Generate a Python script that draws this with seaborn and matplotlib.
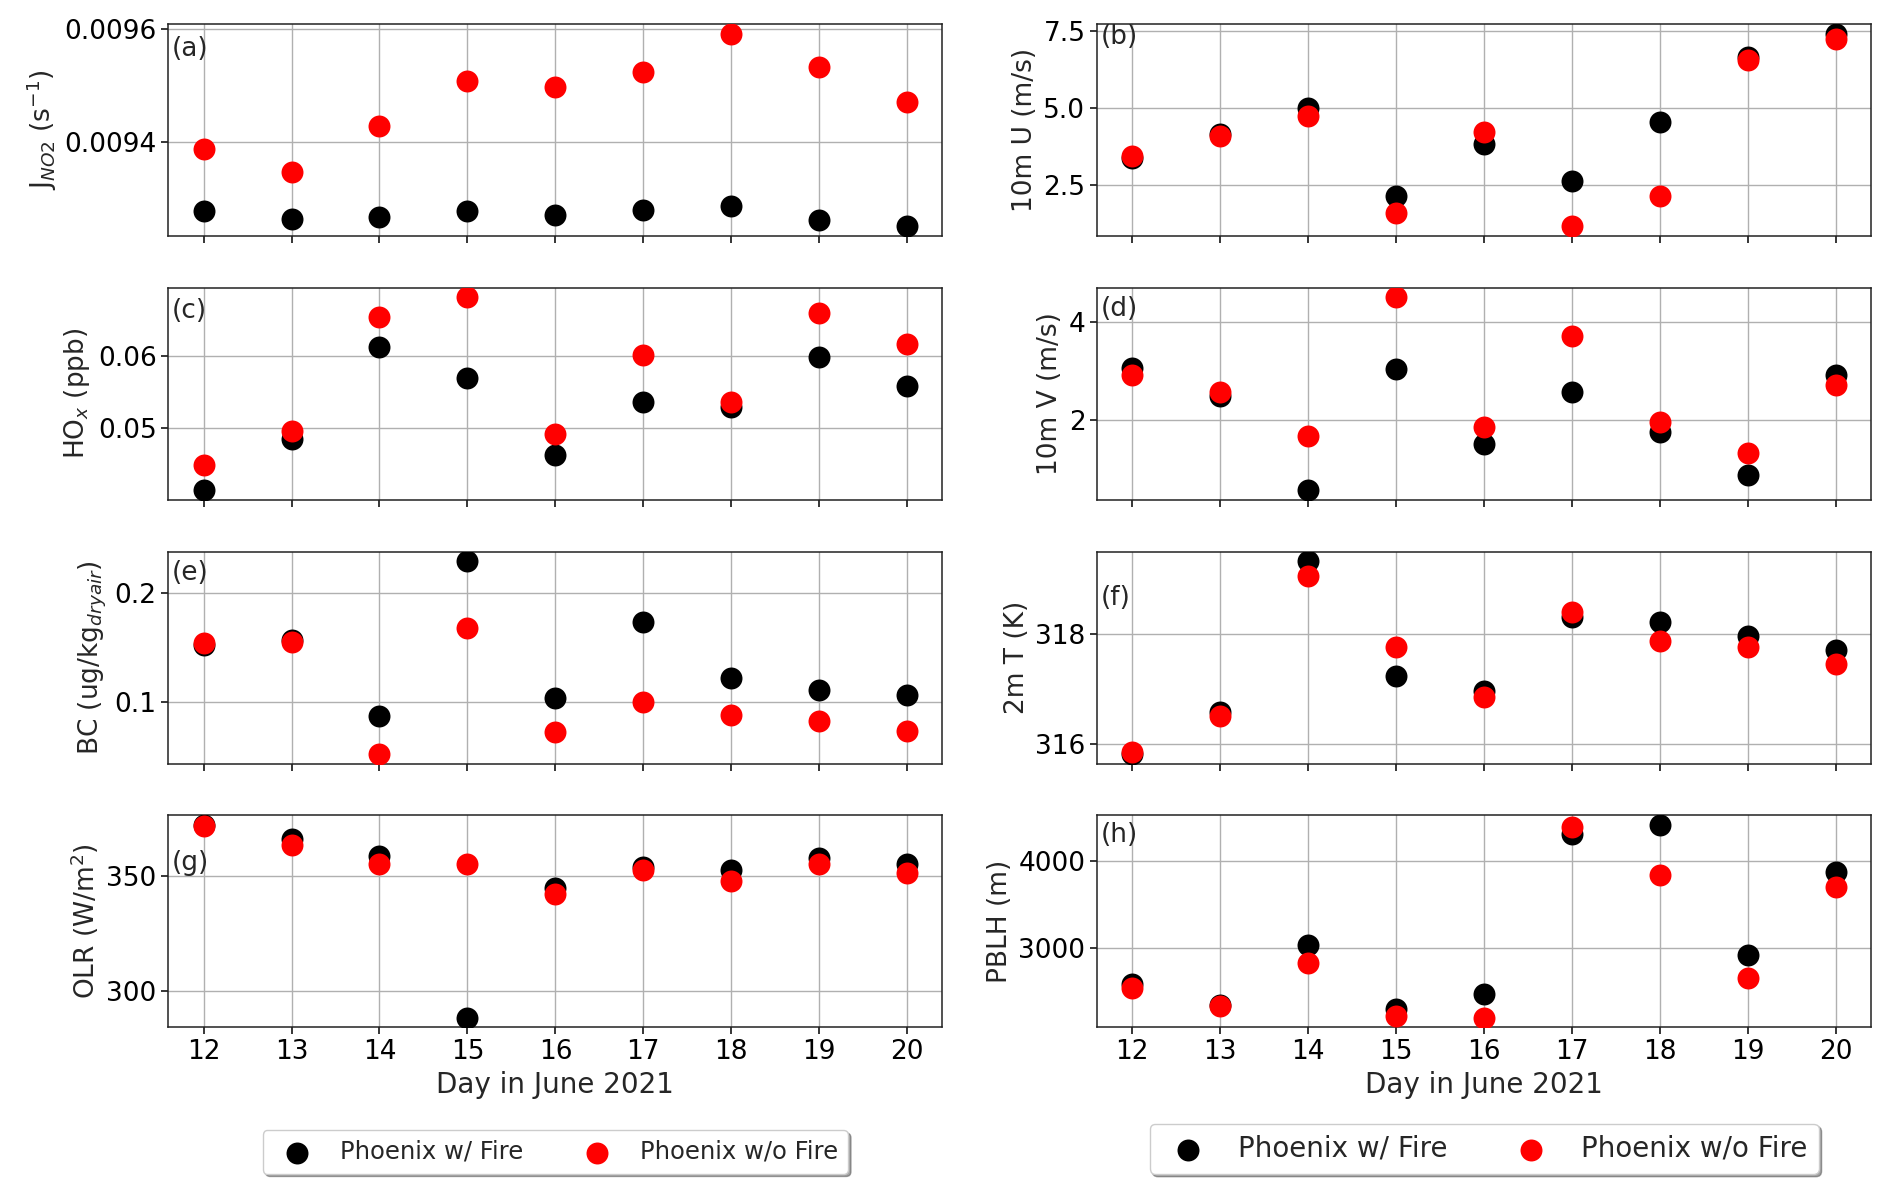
import numpy as np
import pandas as pd
import seaborn as sns
import matplotlib

matplotlib.use("Agg")
import matplotlib.pyplot as plt
from matplotlib.ticker import MaxNLocator

# days in June 2021
days = [12, 13, 14, 15, 16, 17, 18, 19, 20]

# (a) J_NO2
jno2_fire = [0.009278, 0.009263, 0.009268, 0.009278, 0.009271, 0.009280, 0.009287, 0.009262, 0.009251]
jno2_nofire = [0.009387, 0.009347, 0.009428, 0.009508, 0.009498, 0.009524, 0.009592, 0.009532, 0.009471]

# (b) 10m U
u10_fire = [3.39, 4.14, 5.00, 2.14, 3.82, 2.63, 4.55, 6.65, 7.42]
u10_nofire = [3.45, 4.09, 4.73, 1.60, 4.23, 1.16, 2.15, 6.56, 7.23]

# (c) HOx
hox_fire = [0.0415, 0.0486, 0.0612, 0.0570, 0.0463, 0.0537, 0.0530, 0.0599, 0.0559]
hox_nofire = [0.0450, 0.0497, 0.0654, 0.0681, 0.0493, 0.0601, 0.0537, 0.0659, 0.0617]

# (d) 10m V
v10_fire = [3.06, 2.50, 0.57, 3.04, 1.51, 2.57, 1.76, 0.87, 2.92]
v10_nofire = [2.93, 2.57, 1.67, 4.51, 1.86, 3.73, 1.97, 1.32, 2.72]

# (e) BC
bc_fire = [0.152, 0.157, 0.087, 0.229, 0.103, 0.173, 0.122, 0.111, 0.106]
bc_nofire = [0.154, 0.155, 0.052, 0.168, 0.072, 0.100, 0.088, 0.082, 0.073]

# (f) 2m T
t2_fire = [315.82, 316.58, 319.32, 317.24, 316.96, 318.30, 318.22, 317.96, 317.71]
t2_nofire = [315.86, 316.50, 319.05, 317.77, 316.86, 318.40, 317.87, 317.76, 317.46]

# (g) OLR
olr_fire = [372.0, 365.8, 358.6, 288.3, 344.7, 353.6, 352.3, 357.9, 355.1]
olr_nofire = [371.6, 363.5, 355.1, 355.1, 342.1, 352.6, 347.9, 354.9, 351.1]

# (h) PBLH
pblh_fire = [2582, 2348, 3030, 2294, 2468, 4313, 4413, 2925, 3876]
pblh_nofire = [2542, 2333, 2831, 2219, 2199, 4388, 3836, 2657, 3701]

panels = [
    ("(a)", r"J$_{NO2}$ (s$^{-1}$)", jno2_fire, jno2_nofire, 0.88),
    ("(b)", "10m U (m/s)", u10_fire, u10_nofire, 0.94),
    ("(c)", r"HO$_x$ (ppb)", hox_fire, hox_nofire, 0.89),
    ("(d)", "10m V (m/s)", v10_fire, v10_nofire, 0.90),
    ("(e)", r"BC (ug/kg$_{dryair}$)", bc_fire, bc_nofire, 0.90),
    ("(f)", "2m T (K)", t2_fire, t2_nofire, 0.78),
    ("(g)", r"OLR (W/m$^2$)", olr_fire, olr_nofire, 0.775),
    ("(h)", "PBLH (m)", pblh_fire, pblh_nofire, 0.91),
]

sns.set_style("ticks")
plt.rcParams["font.family"] = ["DejaVu Sans"]
plt.rcParams["axes.edgecolor"] = "#222222"
plt.rcParams["axes.linewidth"] = 1.1
plt.rcParams["xtick.color"] = "black"
plt.rcParams["ytick.color"] = "black"

fig, axes = plt.subplots(4, 2, figsize=(18.92, 11.96), dpi=100, sharex=True)
fig.subplots_adjust(left=0.089, right=0.989, top=0.980, bottom=0.141,
                    wspace=0.2, hspace=0.245)

for ax, (tag, ylab, fire, nofire, ty) in zip(axes.flat, panels):
    df = pd.DataFrame({"day": days, "fire": fire, "nofire": nofire})
    sns.scatterplot(data=df, x="day", y="fire", color="black", s=250,
                    linewidth=0, ax=ax, label="Phoenix w/ Fire", zorder=3)
    sns.scatterplot(data=df, x="day", y="nofire", color="red", s=250,
                    linewidth=0, ax=ax, label="Phoenix w/o Fire", zorder=3)
    if ax.get_legend() is not None:
        ax.get_legend().remove()
    ax.grid(True, color="#b0b0b0", linewidth=1.0)
    ax.set_axisbelow(True)
    ax.yaxis.set_major_locator(MaxNLocator(nbins=3, steps=[1, 2, 2.5, 5, 10]))
    ax.set_xticks(days)
    ax.tick_params(labelsize=19, length=5, width=1.1)
    ax.set_ylabel(ylab, fontsize=19)
    ax.set_xlabel("")
    ax.text(0.004, ty, tag, transform=ax.transAxes, fontsize=19, va="center")

for ax in axes[-1]:
    ax.set_xlabel("Day in June 2021", fontsize=20)

h, l = axes[3, 0].get_legend_handles_labels()
axes[3, 0].legend(h, l, loc="center", bbox_to_anchor=(0.5, -0.588), ncol=2,
                  fontsize=17.5, shadow=True, framealpha=1, edgecolor="#cccccc")
h, l = axes[3, 1].get_legend_handles_labels()
axes[3, 1].legend(h, l, loc="center", bbox_to_anchor=(0.5, -0.573), ncol=2,
                  fontsize=20, shadow=True, framealpha=1, edgecolor="#cccccc")

fig.savefig("out.png", dpi=100)
